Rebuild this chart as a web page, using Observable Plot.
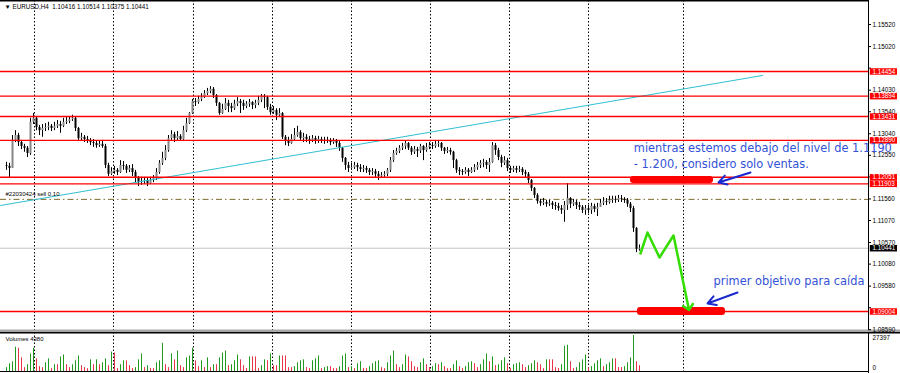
<!DOCTYPE html>
<html><head><meta charset="utf-8">
<script src="https://cdn.jsdelivr.net/npm/d3@7"></script>
<script src="https://cdn.jsdelivr.net/npm/@observablehq/plot@0.6"></script>
<style>
html,body{margin:0;padding:0;background:#fff;overflow:hidden;width:900px;height:373px}
#chart svg{display:block}
</style></head><body><div id="chart"></div>
<script>
// ---- data (EURUSD H4) ----
const firstOpen = 1.1232;
const closes = [
1.1230,1.1225,1.1289,1.1300,1.1284,1.1275,1.1271,1.1259,1.1330,1.1339,
1.1318,1.1311,1.1316,1.1318,1.1321,1.1316,1.1321,1.1325,1.1321,1.1330,
1.1332,1.1336,1.1339,1.1316,1.1293,1.1296,1.1291,1.1289,1.1284,1.1282,
1.1277,1.1280,1.1275,1.1232,1.1212,1.1218,1.1221,1.1216,1.1232,1.1230,
1.1221,1.1225,1.1216,1.1203,1.1193,1.1196,1.1198,1.1191,1.1198,1.1203,
1.1216,1.1237,1.1248,1.1266,1.1293,1.1302,1.1293,1.1298,1.1291,1.1311,
1.1327,1.1350,1.1377,1.1375,1.1382,1.1386,1.1395,1.1400,1.1405,1.1391,
1.1373,1.1350,1.1359,1.1373,1.1366,1.1361,1.1371,1.1377,1.1373,1.1366,
1.1371,1.1375,1.1368,1.1373,1.1380,1.1389,1.1386,1.1364,1.1352,1.1357,
1.1346,1.1350,1.1296,1.1287,1.1282,1.1291,1.1300,1.1307,1.1293,1.1296,
1.1291,1.1289,1.1293,1.1287,1.1291,1.1289,1.1287,1.1289,1.1284,1.1287,
1.1282,1.1271,1.1248,1.1232,1.1225,1.1227,1.1232,1.1227,1.1223,1.1225,
1.1221,1.1216,1.1218,1.1212,1.1207,1.1209,1.1212,1.1221,1.1243,1.1259,
1.1264,1.1271,1.1275,1.1282,1.1271,1.1262,1.1268,1.1264,1.1275,1.1266,
1.1273,1.1277,1.1275,1.1280,1.1282,1.1271,1.1264,1.1266,1.1262,1.1243,
1.1221,1.1218,1.1216,1.1221,1.1216,1.1221,1.1227,1.1232,1.1237,1.1239,
1.1232,1.1239,1.1277,1.1266,1.1250,1.1237,1.1243,1.1225,1.1221,1.1225,
1.1221,1.1223,1.1216,1.1212,1.1198,1.1180,1.1164,1.1150,1.1146,1.1148,
1.1144,1.1146,1.1141,1.1139,1.1134,1.1130,1.1141,1.1157,1.1144,1.1148,
1.1141,1.1137,1.1130,1.1134,1.1130,1.1139,1.1132,1.1137,1.1146,1.1150,
1.1148,1.1153,1.1155,1.1153,1.1157,1.1155,1.1153,1.1144,1.1134,1.1089,
1.10416,1.10441];
const highs = [
1.1239,1.1237,1.1300,1.1311,1.1305,1.1289,1.1280,1.1275,1.1339,1.1350,
1.1341,1.1323,1.1325,1.1327,1.1330,1.1325,1.1330,1.1334,1.1332,1.1339,
1.1341,1.1343,1.1346,1.1341,1.1318,1.1305,1.1300,1.1298,1.1293,1.1291,
1.1287,1.1287,1.1289,1.1280,1.1237,1.1227,1.1230,1.1225,1.1243,1.1241,
1.1234,1.1232,1.1234,1.1221,1.1207,1.1205,1.1205,1.1203,1.1205,1.1209,
1.1225,1.1243,1.1262,1.1277,1.1300,1.1311,1.1307,1.1309,1.1302,1.1321,
1.1339,1.1352,1.1382,1.1384,1.1389,1.1395,1.1402,1.1407,1.1411,1.1409,
1.1393,1.1375,1.1371,1.1384,1.1380,1.1373,1.1380,1.1386,1.1382,1.1380,
1.1377,1.1382,1.1377,1.1380,1.1389,1.1393,1.1393,1.1389,1.1371,1.1366,
1.1361,1.1361,1.1352,1.1300,1.1296,1.1302,1.1316,1.1321,1.1311,1.1305,
1.1302,1.1298,1.1300,1.1298,1.1298,1.1296,1.1296,1.1296,1.1293,1.1293,
1.1291,1.1287,1.1273,1.1250,1.1239,1.1237,1.1239,1.1237,1.1234,1.1232,
1.1230,1.1225,1.1225,1.1223,1.1218,1.1216,1.1218,1.1225,1.1250,1.1266,
1.1271,1.1277,1.1282,1.1287,1.1284,1.1275,1.1275,1.1273,1.1280,1.1277,
1.1282,1.1284,1.1284,1.1287,1.1287,1.1284,1.1273,1.1273,1.1271,1.1264,
1.1246,1.1227,1.1223,1.1227,1.1225,1.1227,1.1234,1.1239,1.1243,1.1246,
1.1243,1.1248,1.1284,1.1282,1.1271,1.1255,1.1252,1.1248,1.1230,1.1230,
1.1230,1.1230,1.1227,1.1221,1.1216,1.1200,1.1182,1.1168,1.1155,1.1157,
1.1153,1.1153,1.1150,1.1148,1.1146,1.1141,1.1150,1.1191,1.1159,1.1155,
1.1153,1.1148,1.1141,1.1141,1.1141,1.1146,1.1144,1.1146,1.1155,1.1159,
1.1157,1.1162,1.1162,1.1162,1.1164,1.1164,1.1159,1.1157,1.1148,1.1139,
1.1091,1.10514];
const lows = [
1.1221,1.1203,1.1225,1.1284,1.1275,1.1268,1.1262,1.1250,1.1255,1.1325,
1.1311,1.1300,1.1296,1.1309,1.1311,1.1309,1.1311,1.1316,1.1305,1.1318,
1.1325,1.1327,1.1332,1.1309,1.1289,1.1287,1.1284,1.1282,1.1277,1.1273,
1.1271,1.1273,1.1271,1.1225,1.1207,1.1209,1.1212,1.1209,1.1214,1.1221,
1.1214,1.1216,1.1207,1.1193,1.1184,1.1187,1.1189,1.1184,1.1189,1.1193,
1.1198,1.1212,1.1232,1.1243,1.1262,1.1289,1.1284,1.1289,1.1287,1.1289,
1.1307,1.1325,1.1348,1.1366,1.1371,1.1377,1.1384,1.1391,1.1395,1.1384,
1.1366,1.1346,1.1348,1.1357,1.1352,1.1352,1.1357,1.1366,1.1350,1.1357,
1.1361,1.1364,1.1359,1.1361,1.1368,1.1375,1.1361,1.1357,1.1346,1.1348,
1.1334,1.1343,1.1291,1.1277,1.1275,1.1280,1.1289,1.1296,1.1289,1.1284,
1.1284,1.1280,1.1284,1.1280,1.1282,1.1282,1.1280,1.1282,1.1277,1.1280,
1.1273,1.1264,1.1239,1.1221,1.1216,1.1221,1.1223,1.1218,1.1216,1.1216,
1.1214,1.1209,1.1209,1.1203,1.1198,1.1203,1.1205,1.1207,1.1216,1.1239,
1.1255,1.1259,1.1266,1.1268,1.1266,1.1255,1.1257,1.1250,1.1259,1.1243,
1.1262,1.1268,1.1268,1.1271,1.1273,1.1264,1.1257,1.1259,1.1255,1.1225,
1.1214,1.1209,1.1209,1.1212,1.1207,1.1214,1.1216,1.1221,1.1225,1.1227,
1.1223,1.1216,1.1237,1.1255,1.1243,1.1227,1.1232,1.1218,1.1214,1.1216,
1.1214,1.1216,1.1209,1.1203,1.1191,1.1173,1.1157,1.1144,1.1139,1.1141,
1.1137,1.1139,1.1132,1.1130,1.1128,1.1121,1.1103,1.1130,1.1134,1.1139,
1.1132,1.1130,1.1123,1.1119,1.1123,1.1121,1.1125,1.1116,1.1137,1.1141,
1.1141,1.1144,1.1146,1.1146,1.1148,1.1148,1.1146,1.1137,1.1125,1.1080,
1.1034,1.10375];
const volumes = [
2960,5920,7400,18500,17760,10360,2960,5180,13320,17760,
9620,3700,2960,6660,9620,2220,5180,5180,11100,12580,
5180,2960,5180,8140,11840,4440,2960,2220,8880,5180,
8880,5180,6660,9620,4440,14800,14060,2220,5180,8140,
8140,4440,2220,2960,8880,13320,2960,4440,2220,2220,
6660,8140,21460,5180,2960,13320,8880,15540,4440,2960,
10360,11840,17760,8140,3700,8140,2960,10360,2960,5180,
5180,10360,14060,15540,4440,5180,8140,12580,8880,4440,
2220,11100,11100,11100,2220,4440,8880,8140,13320,4440,
4440,11840,11840,11840,2960,2960,3700,6660,8140,8880,
2960,2220,8140,9620,11840,2220,2960,3700,3700,2220,
2220,3700,11840,13320,2960,3700,2220,5920,7400,2220,
2220,3700,5920,7400,8140,2960,2220,6660,11840,15540,
5180,2960,5180,12580,11100,7400,3700,2960,6660,9620,
5180,2960,3700,5920,5180,6660,3700,2220,2220,5180,
8140,3700,2220,3700,6660,7400,5920,2960,5180,8880,
13320,7400,11100,4440,5180,8140,10360,5920,2220,5180,
5920,6660,5180,2960,4440,5920,8140,6660,5180,2220,
8880,8880,8880,2960,2220,5180,19240,19980,7400,2220,
2960,6660,8880,12580,2960,3700,5920,8140,9620,3700,
5180,6660,9620,9620,2960,2960,3700,6660,10360,27397,
7400,4380];
const levels = [1.14454,1.13894,1.13431,1.12890,1.12051,1.11903,1.09004];
const priceTicks = [1.15520,1.15020,1.14530,1.14030,1.13540,1.13040,1.12550,1.12060,1.11560,1.11070,1.10570,1.10080,1.09580,1.09090,1.08590];
const gridBars = [9.33,35.67,62.33,88.67,115,141.33,167.67,194,225.67];
const orderPrice = 1.1155;
const orderLabel = "#22030424 sell 0.10";
const titleText = "\u25BC EURUSD,H4  1.10416 1.10514 1.10375 1.10441";
const volLabel = "Volumes 4380";
const volMax = 27397;
const trendPoints = [{i:-2,p:1.11411},{i:252,p:1.14363}];
const zigzag = [{i:211.33,p:1.10321},{i:213.67,p:1.10798},{i:217.67,p:1.10230},{i:222.33,p:1.10730},{i:227.33,p:1.09095}];
const zones = [{x1:208,x2:235.67,y1:1.12070,y2:1.11911},{x1:210.33,x2:239.67,y1:1.09095,y2:1.08914}];
const blueArrows = [{x1:248,y1:1.12160,x2:237.33,y2:1.11933},{x1:243.67,y1:1.09436,x2:233.67,y2:1.09186}];
const notes = [
  {i:209.1,p:1.1272,t:"mientras estemos debajo del nivel de 1.1190"},
  {i:209.1,p:1.1235,t:"- 1.200, considero solo ventas."},
  {i:235.67,p:1.0970,t:"primer objetivo para caída"}
];

// ---- build ----
const bars = closes.map((c,i)=>({i, o: i ? closes[i-1] : firstOpen, h: highs[i], l: lows[i], c}));
const lastClose = closes[closes.length-1];
const vol = volumes.map((v,i)=>({i, v, col: (i===0 || v > volumes[i-1]) ? "#1f9a1f" : "#e8344a"}));
const X0 = -2, X1 = 287.333;
const AX = "Liberation Sans, Arial, sans-serif";
const boxed = levels.concat([lastClose]);
// tick labels that the price boxes cover on the axis are not drawn
const visibleTicks = priceTicks.filter(t => boxed.every(b => Math.abs(b - t) > 0.0010));

const main = Plot.plot({
  width: 900, height: 332, marginTop: 0, marginBottom: 0, marginLeft: 0, marginRight: 32,
  x: {domain: [X0, X1], axis: null},
  y: {domain: [1.08527, 1.16066], axis: null},
  marks: [
    Plot.ruleX(gridBars, {stroke: "#000", strokeDasharray: "1.5,2", strokeWidth: 1}),
    Plot.ruleY([lastClose], {x1: X0, x2: X1, stroke: "#c4c4c4"}),
    Plot.ruleY([orderPrice], {x1: X0, x2: X1, stroke: "#7d6b2e", strokeDasharray: "6,3,1.5,3"}),
    Plot.ruleX(bars, {x: "i", y1: "l", y2: "h", stroke: "#000", strokeWidth: 1}),
    Plot.ruleX(bars, {x: "i", y1: "o", y2: "c", stroke: d => d.c >= d.o ? "#858585" : "#000", strokeWidth: 2}),
    Plot.line(trendPoints, {x: "i", y: "p", stroke: "#2fc0d2", strokeWidth: 1}),
    Plot.ruleY(levels, {x1: X0, x2: X1, stroke: "#ff0000", strokeWidth: 1.4}),
    Plot.rect(zones, {x1: "x1", x2: "x2", y1: "y1", y2: "y2", fill: "#ff0000", rx: 3}),
    Plot.line(zigzag, {x: "i", y: "p", stroke: "#33dd00", strokeWidth: 2.5, markerEnd: "arrow"}),
    Plot.arrow(blueArrows, {x1: "x1", y1: "y1", x2: "x2", y2: "y2", stroke: "#1a2ad0", strokeWidth: 2, headLength: 7}),
    Plot.ruleX([X1], {stroke: "#000"}),
    Plot.ruleY([1.16066], {x1: X0, x2: X1, stroke: "#000", strokeWidth: 2}),
    Plot.ruleY([1.08561], {x1: X0, x2: X1 + 10.67, stroke: "#a8a8a8", strokeWidth: 3}),
    Plot.ruleY(priceTicks, {x1: X1, x2: X1 + 1, stroke: "#000"}),
    Plot.text(visibleTicks, {x: X1 + 1.3, y: d => d, text: d => d.toFixed(5), textAnchor: "start", fontSize: 6.3, fontFamily: AX, fill: "#000"}),
    Plot.ruleY(levels, {x1: X1 + 0.6, x2: X1 + 9.67, stroke: "#ff0000", strokeWidth: 6.5}),
    Plot.text(levels, {x: X1 + 1.3, y: d => d, text: d => d.toFixed(5), textAnchor: "start", fontSize: 6.3, fontFamily: AX, fill: "#fff"}),
    Plot.ruleY([lastClose], {x1: X1 + 0.6, x2: X1 + 9.67, stroke: "#000", strokeWidth: 6.5}),
    Plot.text([lastClose], {x: X1 + 1.3, y: d => d, text: d => d.toFixed(5), textAnchor: "start", fontSize: 6.3, fontFamily: AX, fill: "#fff"}),
    Plot.text([titleText], {frameAnchor: "top-left", dx: 4, dy: 4, textAnchor: "start", lineAnchor: "top", fontSize: 6.3, fontFamily: AX, fill: "#000"}),
    Plot.text([orderLabel], {x: X0, y: orderPrice, dx: 5, dy: -5, textAnchor: "start", fontSize: 6, fontFamily: AX, fill: "#000"}),
    Plot.text(notes, {x: "i", y: "p", text: "t", textAnchor: "start", lineAnchor: "middle", fontSize: 11.4, fontFamily: "DejaVu Sans, sans-serif", fill: "#3352d8"})
  ]
});

const vpx = 36 / volMax; // pixels per volume unit, used only to pad the domain
const volPlot = Plot.plot({
  width: 900, height: 41, marginTop: 0, marginBottom: 0, marginLeft: 0, marginRight: 32,
  x: {domain: [X0, X1], axis: null},
  y: {domain: [-2 / vpx, volMax + 3 / vpx], axis: null},
  marks: [
    Plot.ruleX(gridBars, {stroke: "#000", strokeDasharray: "1.5,2", strokeWidth: 1}),
    Plot.ruleX(vol, {x: "i", y1: 0, y2: "v", stroke: "col", strokeWidth: 1}),
    Plot.ruleY([0], {x1: X0, x2: X1, stroke: "#000"}),
    Plot.ruleY([volMax + 3 / vpx], {x1: X0, x2: X1 + 10.67, stroke: "#000", strokeWidth: 2}),
    Plot.ruleX([X1], {stroke: "#000"}),
    Plot.text([volLabel], {frameAnchor: "top-left", dx: 5, dy: 4, textAnchor: "start", lineAnchor: "top", fontSize: 6, fontFamily: AX, fill: "#000"}),
    Plot.text([volMax], {x: X1 + 1.3, y: d => d, text: d => String(d), textAnchor: "start", lineAnchor: "top", fontSize: 6.3, fontFamily: AX, fill: "#000"}),
    Plot.text([0], {x: X1 + 1.3, y: 0, dy: -2, text: d => String(d), textAnchor: "start", lineAnchor: "bottom", fontSize: 6.3, fontFamily: AX, fill: "#000"})
  ]
});

const el = document.getElementById("chart");
el.appendChild(main);
el.appendChild(volPlot);
</script></body></html>
